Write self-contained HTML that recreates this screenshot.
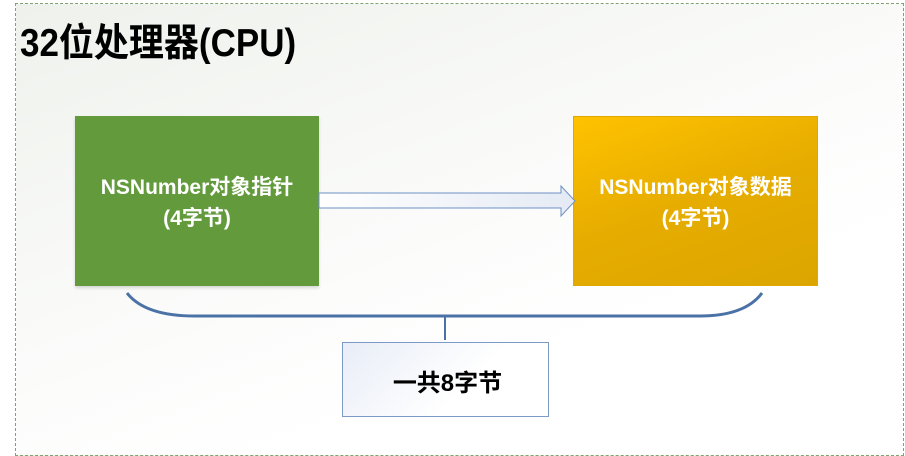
<!DOCTYPE html>
<html><head><meta charset="utf-8"><style>
body{margin:0;width:905px;height:456px;background:#fff;position:relative;overflow:hidden;font-family:"Liberation Sans","Noto Sans CJK SC",sans-serif;}
.frame{position:absolute;left:15px;top:3px;width:887px;height:451px;border:1px dashed #7fa26f;background:linear-gradient(160deg,#eef1ec 0%,#f8f9f7 35%,#fff 70%);}
.title{position:absolute;left:20px;top:12px;font-size:35px;font-weight:bold;color:#000;letter-spacing:0px;transform:scaleY(1.1);transform-origin:left top;}
.box{position:absolute;color:#fff;font-weight:bold;font-size:21px;text-align:center;line-height:31px;display:flex;align-items:center;justify-content:center;}
.g{left:75px;top:116px;width:244px;height:170px;background:#629a3c;box-shadow:0 2px 3px rgba(0,0,0,.15);}
.o{left:573px;top:116px;width:245px;height:170px;background:linear-gradient(160deg,#ffc200 0%,#e6ac00 50%,#dca600 100%);border:1px solid #e0a800;box-sizing:border-box;}
.s{position:absolute;left:342px;top:342px;width:207px;height:75px;border:1px solid #7b9bc6;box-sizing:border-box;background:linear-gradient(135deg,#e8edf7,#fff 60%);font-weight:bold;font-size:24px;color:#000;display:flex;align-items:center;justify-content:center;}
</style></head><body>
<div class="frame"></div>
<div class="title">32位处理器(CPU)</div>
<div class="box g"><div style="margin-top:4px">NSNumber对象指针<br>(4字节)</div></div>
<div class="box o"><div style="margin-top:4px">NSNumber对象数据<br>(4字节)</div></div>
<svg width="905" height="456" style="position:absolute;left:0;top:0">
<defs><linearGradient id="a" x1="0" x2="1"><stop offset="0" stop-color="#fff"/><stop offset="1" stop-color="#e4eaf4"/></linearGradient></defs>
<path d="M319,193 H561 V186 L575,201 L561,216 V208 H319 Z" fill="url(#a)" stroke="#6e90c4" stroke-width="1"/>
<path d="M127,293 Q145,316 195,316 H700 Q745,316 762,293" fill="none" stroke="#4a72a6" stroke-width="3"/>
<line x1="445" y1="317" x2="445" y2="340" stroke="#4a72a6" stroke-width="2"/>
</svg>
<div class="s"><span style="margin-left:4px;margin-top:2px">一共8字节</span></div>
</body></html>
